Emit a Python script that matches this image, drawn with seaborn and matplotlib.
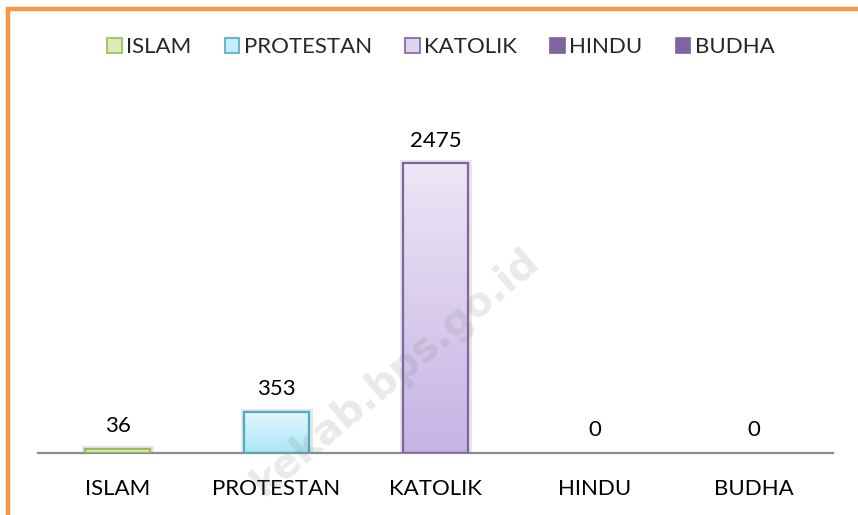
import numpy as np
import pandas as pd
import matplotlib
matplotlib.use("Agg")
import matplotlib.pyplot as plt
from matplotlib.patches import Patch, Rectangle
from matplotlib.colors import LinearSegmentedColormap
import seaborn as sns

# ---- data ----
categories = ["ISLAM", "PROTESTAN", "KATOLIK", "HINDU", "BUDHA"]
values = [36, 353, 2475, 0, 0]

# ---- styles ----
top_colors = ["#eef7dc", "#e6f7fc", "#ece7f6", "#8064A2", "#8064A2"]
bottom_colors = ["#d5ebad", "#a9e6f8", "#c6b3e4", "#8064A2", "#8064A2"]
edge_colors = ["#9BBB59", "#4BACC6", "#8064A2", "#8064A2", "#8064A2"]
legend_faces = ["#d9edb4", "#c4eef9", "#ddd3ef", "#8064A2", "#8064A2"]

sns.set_theme(style="white")
plt.rcParams["font.family"] = ["Lato", "DejaVu Sans"]

fig = plt.figure(figsize=(8.58, 5.15), dpi=100)
ax = fig.add_axes([38 / 858, 1 - 453 / 515, 795 / 858, (453 - 101.5) / 515])

df = pd.DataFrame({"agama": categories, "jumlah": values})
sns.barplot(data=df, x="agama", y="jumlah", hue="agama", order=categories,
            hue_order=categories, palette=legend_faces, width=0.41,
            saturation=1, legend=False, ax=ax)
ax.set_ylim(0, 3000)
ax.set_xlim(-0.5, len(categories) - 0.5)

for i, cont in enumerate(ax.containers):
    for p in cont.patches:
        x0, y0 = p.get_x(), p.get_y()
        w, h = p.get_width(), p.get_height()
        if h <= 0:
            p.set_visible(False)
            continue
        shadow = Rectangle((x0, y0), w, h, facecolor="#dcdcdc", edgecolor="#e6e6e6",
                           lw=5, zorder=1, transform=ax.transData)
        ax.add_patch(shadow)
        cmap = LinearSegmentedColormap.from_list("g", [bottom_colors[i], top_colors[i]])
        grad = np.linspace(0, 1, 256).reshape(-1, 1)
        im = ax.imshow(grad, cmap=cmap, origin="lower", aspect="auto",
                       extent=(x0, x0 + w, y0, y0 + h), zorder=2)
        im.set_clip_path(p)
        p.set_facecolor("none")
        p.set_edgecolor(edge_colors[i])
        p.set_linewidth(1.6)
        p.set_zorder(3)
    ax.bar_label(cont, fmt="%g", padding=9, fontsize=16, color="#000000")

ax.set_xlim(-0.5, len(categories) - 0.5)
ax.set_ylim(0, 3000)
ax.set_xlabel("")
ax.set_ylabel("")
ax.set_yticks([])
ax.tick_params(axis="x", length=0, pad=19, labelsize=16, labelcolor="#000000")
for s in ["top", "right", "left"]:
    ax.spines[s].set_visible(False)
ax.spines["bottom"].set_color("#8c8c8c")
ax.spines["bottom"].set_linewidth(1.6)
ax.patch.set_alpha(0)

handles = [Patch(facecolor=legend_faces[i], edgecolor=edge_colors[i], linewidth=1.2,
                 label=categories[i]) for i in range(len(categories))]
fig.legend(handles=handles, loc="center", bbox_to_anchor=(441 / 858, 1 - 47 / 515),
           ncol=5, frameon=False, fontsize=16, handlelength=0.65, handleheight=0.65,
           handletextpad=0.2, columnspacing=1.5)

# orange frame (top and left edges visible)
frame = Rectangle((8 / 858, -0.2), 1.5, 1.2 - 9 / 515, transform=fig.transFigure,
                  facecolor="none", edgecolor="#F79646", lw=3.2, zorder=10)
fig.patches.append(frame)

# watermark
fig.text(395 / 858, 1 - 372 / 515, "kekab.bps.go.id", rotation=40, fontsize=29,
         fontweight="bold", color="#808080", alpha=0.17, ha="center", va="center",
         family="DejaVu Sans", zorder=20)

fig.savefig("out.png", dpi=100)
